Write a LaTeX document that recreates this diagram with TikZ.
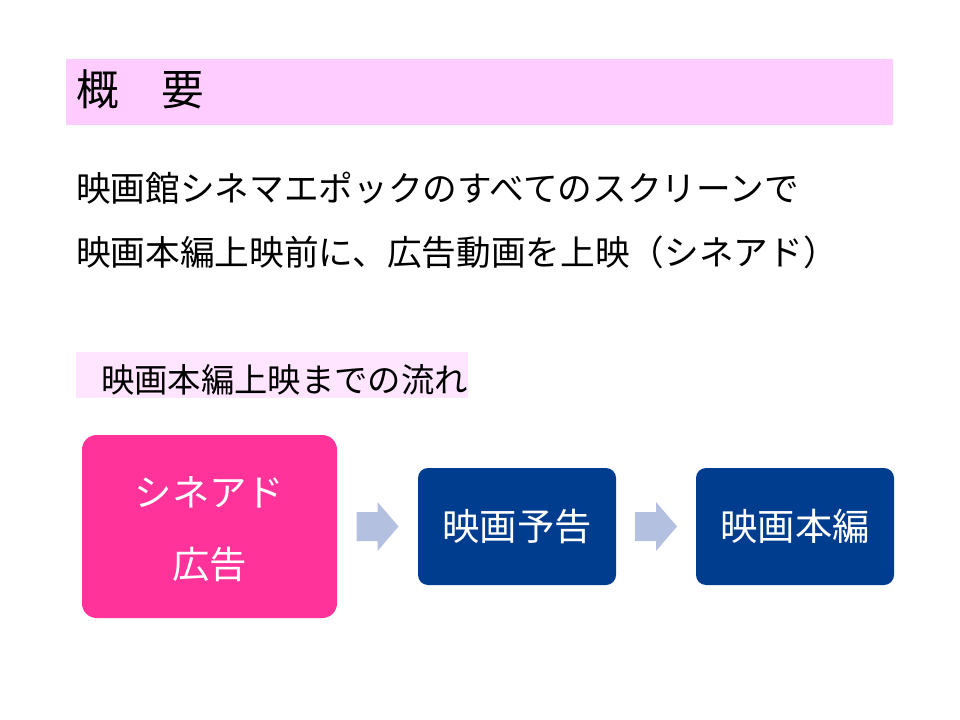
\documentclass[tikz,border=0pt]{standalone}
\usepackage{fontspec}
\setmainfont{Noto Sans CJK JP}
\usetikzlibrary{calc}
\definecolor{titlebg}{HTML}{FFCCFF}
\definecolor{subbg}{HTML}{FFE5FF}
\definecolor{cmpink}{HTML}{FF3399}
\definecolor{boxblue}{HTML}{003D8F}
\definecolor{arrowblue}{HTML}{B4C0E0}
\tikzset{
  px/.style={x=0.75pt,y=-0.75pt},
  bodytext/.style={anchor=west,inner sep=0pt,font=\fontsize{26pt}{30pt}\selectfont,text=black},
  flowbox/.style={rectangle,inner sep=0pt,text=white,font=\fontsize{28pt}{34pt}\selectfont,align=center},
  pinkbox/.style={flowbox,fill=cmpink,rounded corners=11pt,minimum width=191.25pt,minimum height=137.25pt},
  bluebox/.style={flowbox,fill=boxblue,rounded corners=7.5pt,minimum width=148.5pt,minimum height=87.75pt},
  blockarrow/.style={fill=arrowblue},
}
\begin{document}
\begin{tikzpicture}[px]
\useasboundingbox (0,0) rectangle (960,720);
% title bar
\fill[titlebg] (66,59) rectangle (893,125);
\node[bodytext,font=\fontsize{32pt}{36pt}\selectfont] (title) at (76,89) {概　要};
% body text
\node[bodytext] (line1) at (76,188) {映画館シネマエポックのすべてのスクリーンで};
\node[bodytext] (line2) at (76,252.5) {映画本編上映前に、広告動画を上映（シネアド）};
% subtitle
\fill[subbg] (76,352) rectangle (468,398);
\node[bodytext,font=\fontsize{25pt}{30pt}\selectfont] (sub) at (101,380) {映画本編上映までの流れ};
% flow boxes
\node[pinkbox] (cm) at (209.5,526.5) {};
\node[flowbox,anchor=center] (cmtext) at (209.5,529) {シネアド\\[20pt]広告};
\node[bluebox] (trailer) at (517,526.5) {映画予告};
\node[bluebox] (feature) at (795,526.5) {映画本編};
% block arrows
\coordinate (m1) at ($(cm.east)!0.5!(trailer.west)$);
\coordinate (m2) at ($(trailer.east)!0.5!(feature.west)$);
\foreach \m in {m1,m2}{
  \fill[blockarrow] ($(\m)+(-21,-14.5)$) -- ++(21,0) -- ++(0,-10) -- ++(21,24.5) -- ++(-21,24.5) -- ++(0,-10) -- ++(-21,0) -- cycle;
}
\end{tikzpicture}
\end{document}
